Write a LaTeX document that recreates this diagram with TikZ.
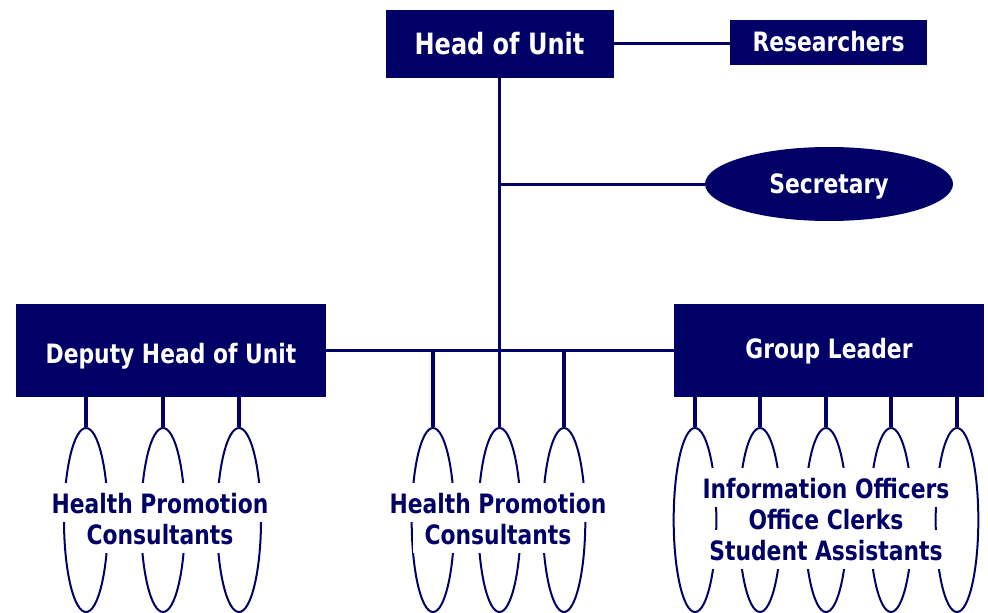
\documentclass[tikz,border=0pt]{standalone}
\usepackage{fontspec}
\setmainfont{DejaVu Sans Condensed}[FakeStretch=0.91]
\usetikzlibrary{shapes.geometric}
\definecolor{navy}{RGB}{0,0,102}
\begin{document}
\begin{tikzpicture}[x=0.75pt,y=-0.75pt,
  box/.style={fill=navy, text=white, font=\bfseries\fontsize{20}{24}\selectfont, inner sep=0pt},
  oval/.style={draw=navy, line width=1.5pt, ellipse, minimum width=32pt, minimum height=138pt, inner sep=0pt},
  conn/.style={draw=navy, line width=2.25pt},
  drop/.style={draw=navy, line width=3pt},
  lbl/.style={fill=white, text=navy, font=\bfseries\fontsize{20}{24}\selectfont, anchor=base, inner xsep=9pt, inner ysep=4pt, text height=18.5pt, text depth=2.75pt}]
\useasboundingbox (0,0) rectangle (988,613);

% boxes
\node[box, minimum width=171pt, minimum height=51pt, font=\bfseries\fontsize{22}{26}\selectfont, text height=18pt, text depth=1.5pt] (head) at (499.5,44) {Head of Unit};
\node[box, minimum width=147.75pt, minimum height=33.75pt, text height=15pt, text depth=1pt] (res) at (828.5,42.5) {Researchers};
\node[box, ellipse, minimum width=186pt, minimum height=55.5pt, text height=15pt, text depth=1.5pt] (sec) at (829,184) {Secretary};
\node[box, minimum width=232.5pt, minimum height=69.75pt, text height=19.5pt, text depth=0pt] (dep) at (171,350) {Deputy Head of Unit};
\node[box, minimum width=232.5pt, minimum height=69.75pt, text height=14pt, text depth=2pt] (grp) at (829,350) {Group Leader};

% ovals
\node[oval, minimum width=33pt] (l1) at (86,520) {};
\node[oval, minimum width=33pt] (l2) at (163,520) {};
\node[oval, minimum width=33pt] (l3) at (239,520) {};
\node[oval] (m1) at (433,520) {};
\node[oval] (m2) at (499.5,520) {};
\node[oval] (m3) at (564,520) {};
\node[oval] (r1) at (695,520) {};
\node[oval] (r2) at (760,520) {};
\node[oval] (r3) at (826,520) {};
\node[oval] (r4) at (891,520) {};
\node[oval] (r5) at (957,520) {};

% connectors
\draw[conn] (head.east) -- (res.west |- head.east);
\draw[conn] (head.south) -- (m2.north);
\draw[conn] (head.south |- sec.west) -- (sec.west);
\draw[conn] (dep.east) -- (grp.west);
\foreach \n in {l1,l2,l3} \draw[drop] (\n.north) -- (\n.north |- dep.south);
\foreach \n in {r1,r2,r3,r4,r5} \draw[drop] (\n.north) -- (\n.north |- grp.south);
\foreach \n in {m1,m3} \draw[drop] (\n.north) -- (\n.north |- dep.east);

% labels
\node[lbl] (lt1) at (160,513) {Health Promotion};
\node[lbl] (lt2) at (160,544) {Consultants};
\node[lbl] (mt1) at (498,513) {Health Promotion};
\node[lbl] (mt2) at (498,544) {Consultants};
\node[lbl] (rt1) at (826,498) {Information Officers};
\node[lbl] (rt2) at (826,529) {Office Clerks};
\node[lbl] (rt3) at (826,560) {Student Assistants};
\end{tikzpicture}
\end{document}
